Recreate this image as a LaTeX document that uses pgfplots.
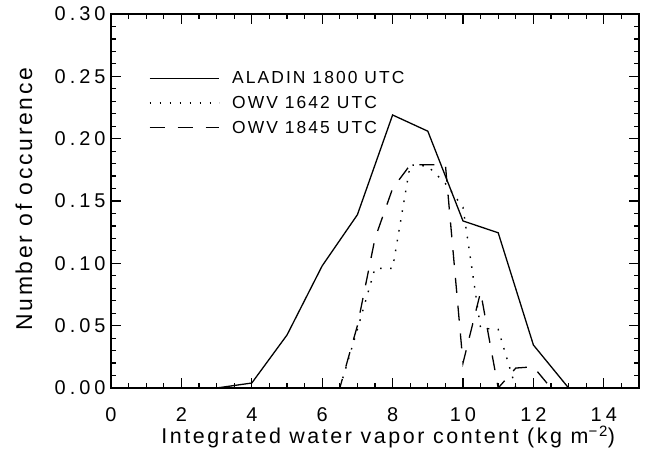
\documentclass[border=0pt]{standalone}
\usepackage{fontspec}
\setmainfont{Liberation Sans}[LetterSpace=12]
\newfontfamily\tickfont{Liberation Sans}[LetterSpace=20]
\usepackage{pgfplots}
\pgfplotsset{compat=1.18}

\pgfplotstableread{
x y
0 0
1 0
2 0
3 0
4 0.004
5 0.0425
6 0.098
7 0.139
8 0.219
9 0.206
10 0.134
11 0.1245
12 0.0345
13 0
14 0
15 0
}\aladin

\pgfplotstableread{
x y
0 0
6.5 0
7 0.047
7.5 0.096
8 0.096
8.5 0.179
9 0.178
9.5 0.164
10 0.145
10.5 0.048
11 0.047
11.5 0
15 0
}\owvA

\pgfplotstableread{
x y
0 0
6.5 0
7 0.05
7.5 0.12
8 0.16
8.5 0.179
9 0.179
9.5 0.179
10 0.02
10.5 0.077
11 0
11.5 0.016
12 0.017
12.5 0
15 0
}\owvB

\begin{document}
\begin{tikzpicture}
\begin{axis}[
  scale only axis, width=528bp, height=374bp,
  xmin=0, xmax=15, ymin=0, ymax=0.30,
  xtick={0,2,4,6,8,10,12,14},
  minor xtick={0,0.5,...,15},
  ytick={0,0.05,0.10,0.15,0.20,0.25,0.30},
  minor y tick num=4,
  tick align=inside,
  xtick pos=both, ytick pos=both,
  major tick length=10pt, minor tick length=5pt,
  every tick/.style={black, line width=1.2pt},
  axis line style={line width=1.3pt},
  /pgf/number format/assume math mode=true,
  y tick label style={/pgf/number format/fixed, /pgf/number format/fixed zerofill, /pgf/number format/precision=2, xshift=-2pt},
  ticklabel style={font=\tickfont\fontsize{20}{24}\selectfont},
  x tick label style={yshift=-16pt},
  xlabel={Integrated water vapor content (kg m\textsuperscript{−2})},
  ylabel={Number of occurence},
  xlabel style={font=\fontsize{21.5}{25}\selectfont, at={(axis description cs:0.525,-0.131)}, anchor=center},
  ylabel style={font=\fontsize{23}{27}\selectfont, at={(axis description cs:-0.165,0.505)}, anchor=center},
  legend style={draw=none, fill=none, at={(axis description cs:0.066,0.857)}, anchor=north west,
    font=\fontsize{17.5}{21}\selectfont, row sep=7pt},
  legend cell align=left,
  legend image code/.code={\draw[#1] (0pt,0pt) -- (70pt,0pt); \path (80pt,0pt);},
]
\addplot[black, line width=1.3pt] table {\aladin};
\addlegendentry{ALADIN 1800 UTC}
\addplot[black, line width=1.4pt, dash pattern=on 1.6pt off 8.4pt] table {\owvA};
\addlegendentry{OWV 1642 UTC}
\addplot[black, line width=1.3pt, dash pattern=on 15pt off 13pt] table {\owvB};
\addlegendentry{OWV 1845 UTC}
\end{axis}
\path ([xshift=-111bp,yshift=-69bp]current axis.south west) rectangle ([xshift=6bp,yshift=14bp]current axis.north east);
\end{tikzpicture}
\end{document}
